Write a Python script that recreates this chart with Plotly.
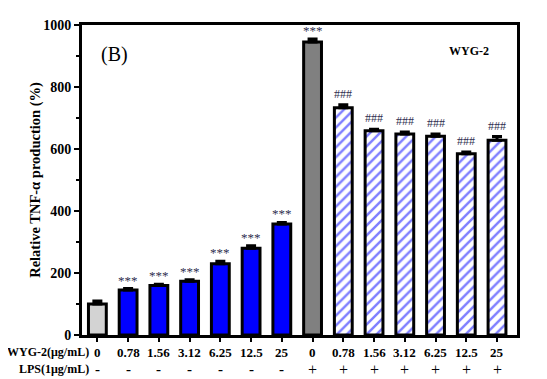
import plotly.graph_objects as go

doses = ["0", "0.78", "1.56", "3.12", "6.25", "12.5", "25",
         "0", "0.78", "1.56", "3.12", "6.25", "12.5", "25"]
lps = ["-", "-", "-", "-", "-", "-", "-", "+", "+", "+", "+", "+", "+", "+"]
values = [100, 145, 160, 173, 230, 280, 358, 945, 733, 659, 648, 641, 585, 628]
errors = [10, 5, 4, 5, 8, 8, 5, 10, 10, 5, 7, 7, 5, 12]
marks = ["", "***", "***", "***", "***", "***", "***", "***",
         "###", "###", "###", "###", "###", "###"]

FONT = "Liberation Serif, Times New Roman, serif"
xs = list(range(len(values)))

fig = go.Figure()

def add_bars(idx, color, pattern=None):
    fig.add_trace(go.Bar(
        x=[xs[i] for i in idx], y=[values[i] for i in idx],
        width=0.58,
        marker=dict(color=color, line=dict(color="black", width=3),
                    pattern=pattern),
        error_y=dict(type="data", symmetric=False,
                     array=[errors[i] for i in idx],
                     arrayminus=[0 for _ in idx],
                     color="black", thickness=3, width=5),
        showlegend=False,
    ))

add_bars([0], "#d3d3d3")
add_bars([1, 2, 3, 4, 5, 6], "#0000ff")
add_bars([7], "#808080")
add_bars([8, 9, 10, 11, 12, 13], "white",
         pattern=dict(shape="/", fgcolor="#0000ff", bgcolor="white",
                      size=7, solidity=0.35))

annotations = []
for i, m in enumerate(marks):
    if m:
        annotations.append(dict(
            x=xs[i], y=values[i] + errors[i], xref="x", yref="y",
            text=m, showarrow=False, yanchor="bottom",
            yshift=2 if m == "###" else -1,
            font=dict(family=FONT, size=12 if m == "###" else 13,
                      color="#2e2e4e")))
for i in xs:
    annotations.append(dict(
        x=xs[i], y=-0.025, xref="x", yref="paper", text="<b>" + doses[i] + "</b>",
        showarrow=False, yanchor="top",
        font=dict(family=FONT, size=13, color="black")))
    annotations.append(dict(
        x=xs[i], y=-0.078, xref="x", yref="paper",
        text=("<b>-</b>" if lps[i] == "-" else "+"),
        showarrow=False, yanchor="top",
        font=dict(family=FONT, size=16 if lps[i] == "+" else 15, color="black")))
annotations.append(dict(
    x=-0.22, y=-0.025, xref="x", yref="paper", text="<b>WYG-2(\u03bcg/mL)</b>",
    showarrow=False, xanchor="right", yanchor="top",
    font=dict(family=FONT, size=12, color="black")))
annotations.append(dict(
    x=-0.22, y=-0.08, xref="x", yref="paper", text="<b>LPS(1\u03bcg/mL)</b>",
    showarrow=False, xanchor="right", yanchor="top",
    font=dict(family=FONT, size=12, color="black")))
annotations.append(dict(
    x=0.04, y=0.905, xref="paper", yref="paper", text="(B)",
    showarrow=False, xanchor="left", yanchor="middle",
    font=dict(family=FONT, size=20, color="black")))
annotations.append(dict(
    x=0.94, y=0.915, xref="paper", yref="paper", text="<b>WYG-2</b>",
    showarrow=False, xanchor="right", yanchor="middle",
    font=dict(family=FONT, size=12, color="black")))

# page body has an 8px margin, so the figure is shrunk by 8px and margins shifted
fig.update_layout(
    width=539, height=371,
    margin=dict(l=74, r=30, t=10, b=44),
    plot_bgcolor="white", paper_bgcolor="white",
    annotations=annotations,
    xaxis=dict(range=[-0.5, 13.65], tickvals=xs, ticktext=[""] * len(xs),
               showline=True, linecolor="black", linewidth=3, mirror=True,
               ticks="outside", ticklen=4, tickwidth=2, tickcolor="black",
               showgrid=False, zeroline=False, fixedrange=True),
    yaxis=dict(range=[0, 1000], tickvals=[0, 200, 400, 600, 800, 1000],
               showline=True, linecolor="black", linewidth=3, mirror=True,
               ticks="outside", ticklen=5, tickwidth=2, tickcolor="black",
               minor=dict(tickvals=[100, 300, 500, 700, 900], ticks="outside",
                          ticklen=3, tickwidth=2, tickcolor="black"),
               tickfont=dict(family=FONT, size=14, color="black", weight="bold"),
               showgrid=False, zeroline=False,
               title=dict(text="<b>Relative TNF-\u03b1 production (%)</b>",
                          font=dict(family=FONT, size=14.5, color="black"),
                          standoff=0)),
)

fig.write_html("out.html")
